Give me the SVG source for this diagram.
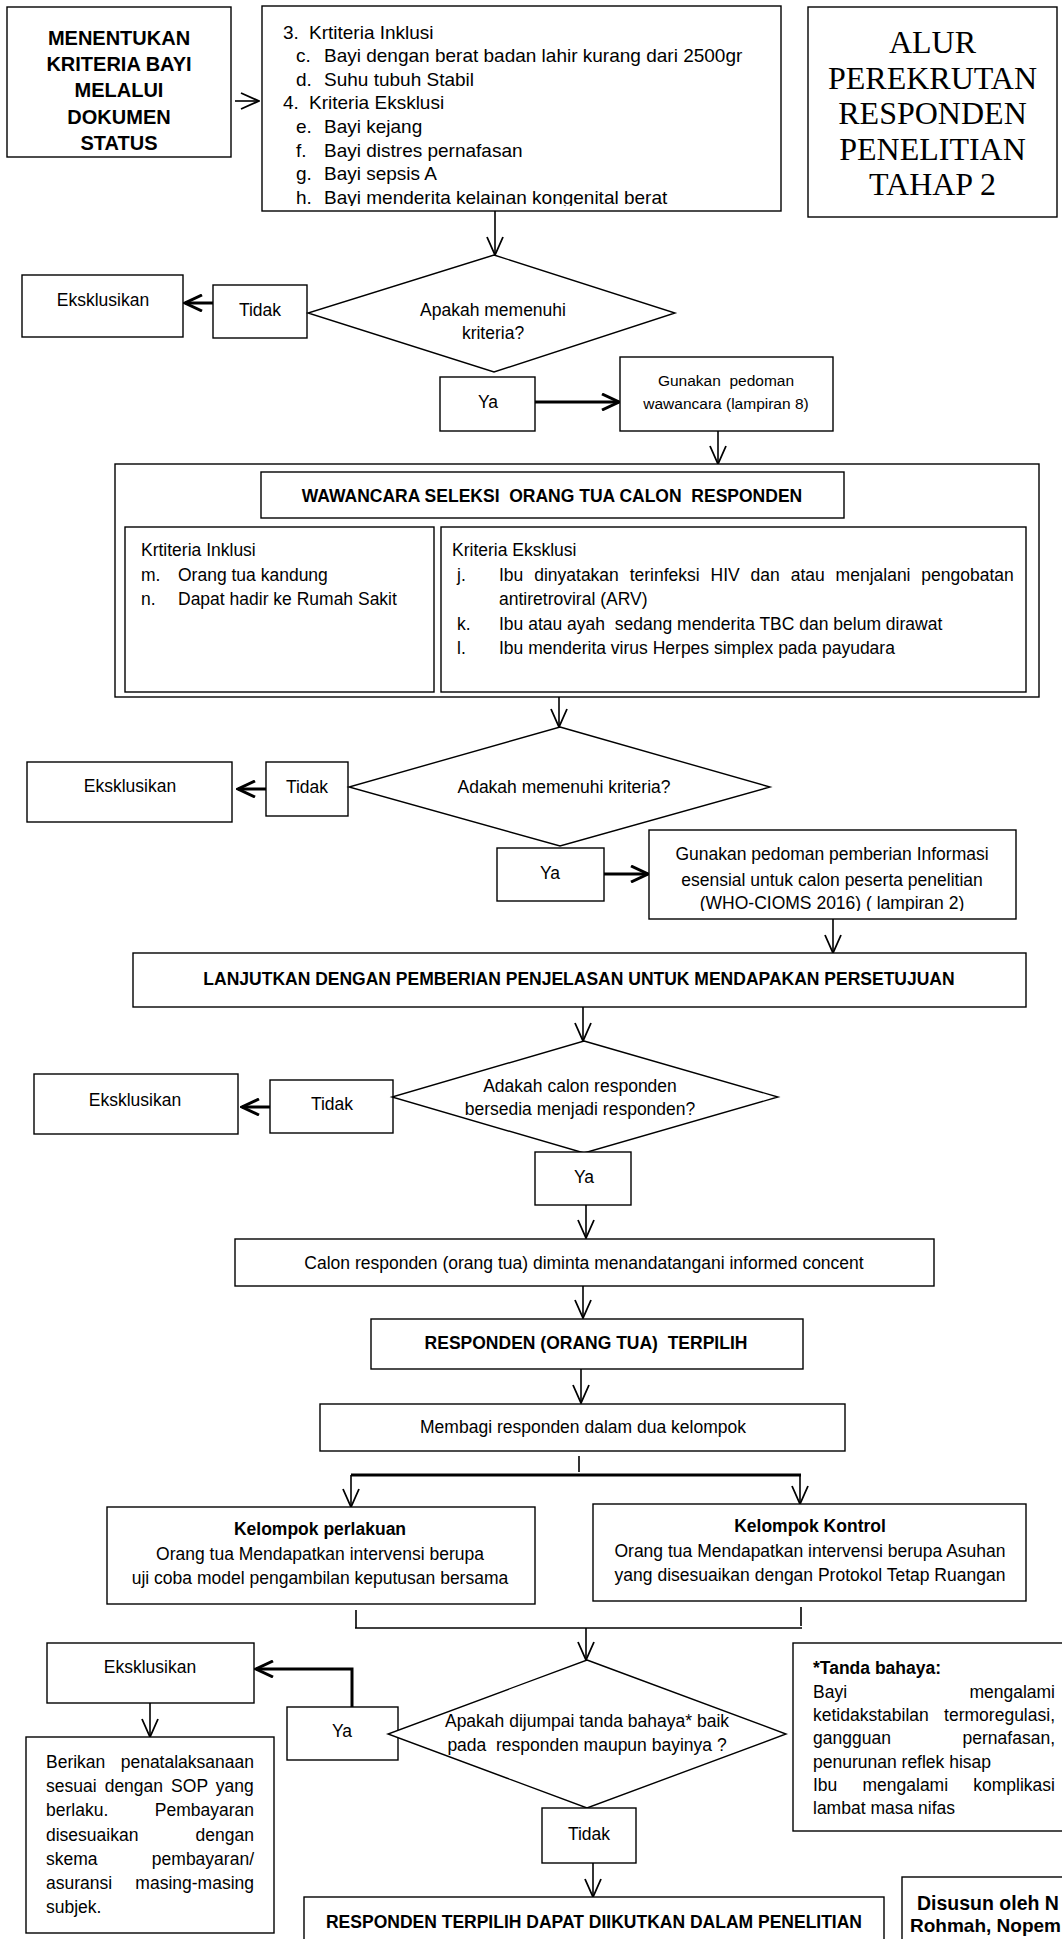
<svg xmlns="http://www.w3.org/2000/svg" width="1062" height="1939" viewBox="0 0 1062 1939">
<style>
.b{fill:#fff;stroke:#000;stroke-width:1.4}
.t{font-family:"Liberation Sans",Arial,sans-serif;font-size:17.5px;fill:#000}
.tb{font-family:"Liberation Sans",Arial,sans-serif;font-size:19px;fill:#000}
.c{text-anchor:middle}
.e{text-anchor:end}
.bd{font-weight:bold}
.cn{stroke:#000;stroke-width:1.6;fill:none}
.tk{stroke-width:3}
.sr{font-family:"Liberation Serif","Times New Roman",serif;font-size:32px;fill:#000;text-anchor:middle}
</style>
<defs>
<marker id="ah" viewBox="0 0 20 18" refX="19" refY="9" markerWidth="20" markerHeight="18" markerUnits="userSpaceOnUse" orient="auto"><path d="M1,1 L19,9 L1,17" fill="none" stroke="#000" stroke-width="1.8"/></marker>
<marker id="ahk" viewBox="0 0 20 18" refX="18" refY="9" markerWidth="20" markerHeight="18" markerUnits="userSpaceOnUse" orient="auto"><path d="M1,1 L18,9 L1,17" fill="none" stroke="#000" stroke-width="3"/></marker>
<clipPath id="clip2"><rect x="262" y="6" width="519" height="200"/></clipPath>
<clipPath id="clipG2"><rect x="649" y="830" width="367" height="81"/></clipPath>
</defs>
<rect width="1062" height="1939" fill="#fff"/>

<g id="connectors">
<line class="cn" x1="235" y1="101" x2="259" y2="101" marker-end="url(#ah)"/>
<line class="cn" x1="495" y1="211" x2="495" y2="255" marker-end="url(#ah)"/>
<line class="cn tk" x1="213" y1="303" x2="185" y2="303" marker-end="url(#ahk)"/>
<line class="cn tk" x1="535" y1="402" x2="619" y2="402" marker-end="url(#ahk)"/>
<line class="cn" x1="718" y1="431" x2="718" y2="464" marker-end="url(#ah)"/>
<line class="cn" x1="559" y1="697" x2="559" y2="727" marker-end="url(#ah)"/>
<line class="cn tk" x1="266" y1="789" x2="238" y2="789" marker-end="url(#ahk)"/>
<line class="cn tk" x1="604" y1="874" x2="648" y2="874" marker-end="url(#ahk)"/>
<line class="cn" x1="833" y1="919" x2="833" y2="953" marker-end="url(#ah)"/>
<line class="cn" x1="583" y1="1007" x2="583" y2="1041" marker-end="url(#ah)"/>
<line class="cn tk" x1="270" y1="1107" x2="242" y2="1107" marker-end="url(#ahk)"/>
<line class="cn" x1="586" y1="1205" x2="586" y2="1238" marker-end="url(#ah)"/>
<line class="cn" x1="583" y1="1286" x2="583" y2="1318" marker-end="url(#ah)"/>
<line class="cn" x1="581" y1="1369" x2="581" y2="1403" marker-end="url(#ah)"/>
<line class="cn" x1="579" y1="1456" x2="579" y2="1472"/>
<line class="cn tk" x1="351" y1="1475" x2="801" y2="1475"/>
<line class="cn" x1="351" y1="1475" x2="351" y2="1507" marker-end="url(#ah)"/>
<line class="cn" x1="800" y1="1475" x2="800" y2="1504" marker-end="url(#ah)"/>
<line class="cn" x1="356" y1="1610" x2="356" y2="1628"/>
<line class="cn" x1="801" y1="1607" x2="801" y2="1626"/>
<line class="cn" stroke-width="2.2" x1="355" y1="1628" x2="802" y2="1628"/>
<line class="cn" x1="586" y1="1628" x2="586" y2="1660" marker-end="url(#ah)"/>
<path class="cn tk" d="M352,1707 V1669 H256" marker-end="url(#ahk)"/>
<line class="cn" x1="150" y1="1703" x2="150" y2="1737" marker-end="url(#ah)"/>
<line class="cn" x1="593" y1="1863" x2="593" y2="1897" marker-end="url(#ah)"/>
</g>

<g id="n-menentukan">
<rect class="b" x="7" y="7" width="224" height="150"/>
<text class="t c bd" style="font-size:20px"><tspan x="119" y="45">MENENTUKAN</tspan><tspan x="119" y="71.2">KRITERIA BAYI</tspan><tspan x="119" y="97.4">MELALUI</tspan><tspan x="119" y="123.6">DOKUMEN</tspan><tspan x="119" y="149.8">STATUS</tspan></text>
</g>

<g id="n-kriteria-bayi">
<rect class="b" x="262" y="6" width="519" height="205"/>
<g clip-path="url(#clip2)">
<text class="tb" x="283" y="38.5">3.</text><text class="tb" x="309" y="38.5">Krtiteria Inklusi</text>
<text class="tb" x="296" y="62.1">c.</text><text class="tb" x="324" y="62.1">Bayi dengan berat badan lahir kurang dari 2500gr</text>
<text class="tb" x="296" y="85.7">d.</text><text class="tb" x="324" y="85.7">Suhu tubuh Stabil</text>
<text class="tb" x="283" y="109.3">4.</text><text class="tb" x="309" y="109.3">Kriteria Eksklusi</text>
<text class="tb" x="296" y="132.9">e.</text><text class="tb" x="324" y="132.9">Bayi kejang</text>
<text class="tb" x="296" y="156.5">f.</text><text class="tb" x="324" y="156.5">Bayi distres pernafasan</text>
<text class="tb" x="296" y="180.1">g.</text><text class="tb" x="324" y="180.1">Bayi sepsis A</text>
<text class="tb" x="296" y="203.7">h.</text><text class="tb" x="324" y="203.7">Bayi menderita kelainan kongenital berat</text>
</g>
</g>

<g id="n-alur">
<rect class="b" x="808" y="7" width="249" height="210"/>
<text class="sr"><tspan x="932.5" y="53">ALUR</tspan><tspan x="932.5" y="88.5">PEREKRUTAN</tspan><tspan x="932.5" y="124">RESPONDEN</tspan><tspan x="932.5" y="159.5">PENELITIAN</tspan><tspan x="932.5" y="195">TAHAP 2</tspan></text>
</g>

<g id="n-eksk1"><rect class="b" x="22" y="275" width="161" height="62"/><text class="t c" x="103" y="306">Eksklusikan</text></g>
<g id="n-tidak1"><rect class="b" x="213" y="285" width="94" height="53"/><text class="t c" x="260" y="316">Tidak</text></g>
<g id="n-dec1"><polygon class="b" points="494,255 675,313 494,372 308,313"/><text class="t c"><tspan x="493" y="316">Apakah memenuhi</tspan><tspan x="493" y="339">kriteria?</tspan></text></g>
<g id="n-ya1"><rect class="b" x="440" y="377" width="95" height="54"/><text class="t c" x="488" y="408">Ya</text></g>
<g id="n-gunakan1"><rect class="b" x="620" y="357" width="213" height="74"/><text class="t c" style="font-size:15.5px"><tspan x="726" y="386" xml:space="preserve">Gunakan  pedoman</tspan><tspan x="726" y="409">wawancara (lampiran 8)</tspan></text></g>

<g id="n-wawancara">
<rect class="b" x="115" y="464" width="924" height="233"/>
<rect class="b" x="261" y="472" width="583" height="46"/>
<text class="t c bd" x="552" y="502" xml:space="preserve">WAWANCARA SELEKSI  ORANG TUA CALON  RESPONDEN</text>
<rect class="b" x="125" y="527" width="309" height="165"/>
<rect class="b" x="441" y="527" width="585" height="165"/>
<text class="t" x="141" y="556">Krtiteria Inklusi</text>
<text class="t" x="141" y="580.5">m.</text><text class="t" x="178" y="580.5">Orang tua kandung</text>
<text class="t" x="141" y="605">n.</text><text class="t" x="178" y="605">Dapat hadir ke Rumah Sakit</text>
<text class="t" x="452" y="556">Kriteria Eksklusi</text>
<text class="t" x="457" y="580.5">j.</text><text class="t" x="499" y="580.5" word-spacing="6">Ibu dinyatakan terinfeksi HIV dan atau menjalani pengobatan</text>
<text class="t" x="499" y="605">antiretroviral (ARV)</text>
<text class="t" x="457" y="629.5">k.</text><text class="t" x="499" y="629.5" xml:space="preserve">Ibu atau ayah  sedang menderita TBC dan belum dirawat</text>
<text class="t" x="457" y="654">l.</text><text class="t" x="499" y="654">Ibu menderita virus Herpes simplex pada payudara</text>
</g>

<g id="n-eksk2"><rect class="b" x="27" y="762" width="205" height="60"/><text class="t c" x="130" y="792">Eksklusikan</text></g>
<g id="n-tidak2"><rect class="b" x="266" y="762" width="82" height="54"/><text class="t c" x="307" y="793">Tidak</text></g>
<g id="n-dec2"><polygon class="b" points="560,727 770,787 560,846 349,787"/><text class="t c" x="564" y="793">Adakah memenuhi kriteria?</text></g>
<g id="n-ya2"><rect class="b" x="497" y="848" width="107" height="53"/><text class="t c" x="550" y="879">Ya</text></g>
<g id="n-gunakan2"><rect class="b" x="649" y="830" width="367" height="89"/><text class="t c" clip-path="url(#clipG2)"><tspan x="832" y="860">Gunakan pedoman pemberian Informasi</tspan><tspan x="832" y="886">esensial untuk calon peserta penelitian</tspan><tspan x="832" y="909">(WHO-CIOMS 2016) ( lampiran 2)</tspan></text></g>

<g id="n-lanjutkan"><rect class="b" x="133" y="953" width="893" height="54"/><text class="t c bd" x="579" y="985">LANJUTKAN DENGAN PEMBERIAN PENJELASAN UNTUK MENDAPAKAN PERSETUJUAN</text></g>

<g id="n-eksk3"><rect class="b" x="34" y="1074" width="204" height="60"/><text class="t c" x="135" y="1106">Eksklusikan</text></g>
<g id="n-tidak3"><rect class="b" x="270" y="1080" width="123" height="53"/><text class="t c" x="332" y="1110">Tidak</text></g>
<g id="n-dec3"><polygon class="b" points="584,1041 778,1097 584,1153 392,1097"/><text class="t c"><tspan x="580" y="1092">Adakah calon responden</tspan><tspan x="580" y="1115">bersedia menjadi responden?</tspan></text></g>
<g id="n-ya3"><rect class="b" x="535" y="1152" width="96" height="53"/><text class="t c" x="584" y="1183">Ya</text></g>
<g id="n-calon"><rect class="b" x="235" y="1239" width="699" height="47"/><text class="t c" x="584" y="1269">Calon responden (orang tua) diminta menandatangani informed concent</text></g>
<g id="n-terpilih"><rect class="b" x="371" y="1319" width="432" height="50"/><text class="t c bd" x="586" y="1349" xml:space="preserve">RESPONDEN (ORANG TUA)  TERPILIH</text></g>
<g id="n-membagi"><rect class="b" x="320" y="1404" width="525" height="47"/><text class="t c" x="583" y="1433">Membagi responden dalam dua kelompok</text></g>

<g id="n-perlakuan"><rect class="b" x="107" y="1507" width="428" height="97"/>
<text class="t c bd" x="320" y="1535">Kelompok perlakuan</text>
<text class="t c"><tspan x="320" y="1560">Orang tua Mendapatkan intervensi berupa</tspan><tspan x="320" y="1584">uji coba model pengambilan keputusan bersama</tspan></text></g>
<g id="n-kontrol"><rect class="b" x="593" y="1504" width="433" height="97"/>
<text class="t c bd" x="810" y="1532">Kelompok Kontrol</text>
<text class="t c"><tspan x="810" y="1557">Orang tua Mendapatkan intervensi berupa Asuhan</tspan><tspan x="810" y="1581">yang disesuaikan dengan Protokol Tetap Ruangan</tspan></text></g>

<g id="n-eksk4"><rect class="b" x="47" y="1643" width="207" height="60"/><text class="t c" x="150" y="1673">Eksklusikan</text></g>
<g id="n-ya4"><rect class="b" x="287" y="1707" width="111" height="53"/><text class="t c" x="342" y="1737">Ya</text></g>
<g id="n-dec4"><polygon class="b" points="587,1660 786,1734 587,1808 388,1734"/><text class="t c"><tspan x="587" y="1727">Apakah dijumpai tanda bahaya* baik</tspan><tspan x="587" y="1751" xml:space="preserve">pada  responden maupun bayinya ?</tspan></text></g>
<g id="n-tidak4"><rect class="b" x="542" y="1808" width="94" height="55"/><text class="t c" x="589" y="1840">Tidak</text></g>

<g id="n-berikan"><rect class="b" x="26" y="1737" width="248" height="196"/>
<text class="t" x="46" y="1768">Berikan</text><text class="t e" x="254" y="1768">penatalaksanaan</text>
<text class="t" x="46" y="1792" word-spacing="3.2">sesuai dengan SOP yang</text>
<text class="t" x="46" y="1816">berlaku.</text><text class="t e" x="254" y="1816">Pembayaran</text>
<text class="t" x="46" y="1841">disesuaikan</text><text class="t e" x="254" y="1841">dengan</text>
<text class="t" x="46" y="1865">skema</text><text class="t e" x="254" y="1865">pembayaran/</text>
<text class="t" x="46" y="1889">asuransi</text><text class="t e" x="254" y="1889">masing-masing</text>
<text class="t" x="46" y="1913">subjek.</text>
</g>

<g id="n-tanda"><rect class="b" x="793" y="1643" width="300" height="188"/>
<text class="t bd" x="813" y="1674">*Tanda bahaya:</text>
<text class="t" x="813" y="1697.5">Bayi</text><text class="t e" x="1055" y="1697.5">mengalami</text>
<text class="t" x="813" y="1721">ketidakstabilan</text><text class="t e" x="1055" y="1721">termoregulasi,</text>
<text class="t" x="813" y="1744">gangguan</text><text class="t e" x="1055" y="1744">pernafasan,</text>
<text class="t" x="813" y="1767.5">penurunan reflek hisap</text>
<text class="t" x="813" y="1790.5" word-spacing="20.3">Ibu mengalami komplikasi</text>
<text class="t" x="813" y="1814">lambat masa nifas</text>
</g>

<g id="n-final"><rect class="b" x="304" y="1897" width="580" height="60"/><text class="t c bd" x="594" y="1928">RESPONDEN TERPILIH DAPAT DIIKUTKAN DALAM PENELITIAN</text></g>

<g id="n-disusun"><rect class="b" x="902" y="1877" width="200" height="100"/>
<text class="t bd" style="font-size:19.5px" x="917" y="1910">Disusun oleh N</text>
<text class="t bd" style="font-size:19px" x="910" y="1932">Rohmah, Nopem</text>
</g>
</svg>
